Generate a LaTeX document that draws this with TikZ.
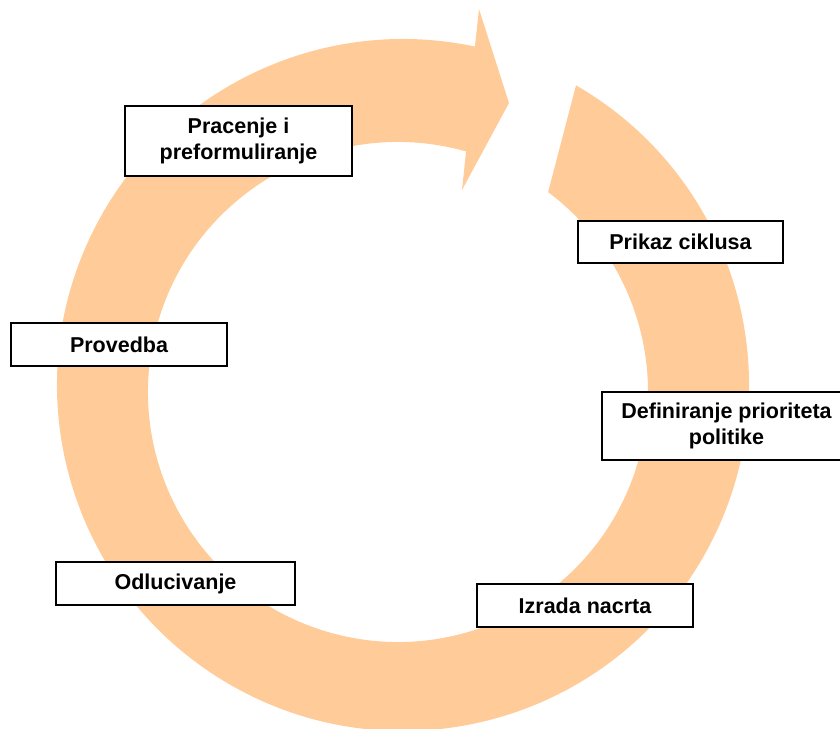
\documentclass[tikz,border=0pt]{standalone}
\usepackage{fontspec}
\setmainfont{Liberation Sans}
\definecolor{ringcol}{HTML}{FFCC99}
\tikzset{
  stagebox/.style={draw=black, line width=1.5pt, fill=white, inner sep=0pt,
    align=center, font=\fontsize{21.5}{26.5}\selectfont\bfseries},
}
\begin{document}
\begin{tikzpicture}[x=1pt,y=1pt]
\useasboundingbox (0,0) rectangle (840,728);
\clip (0,0) rectangle (840,728);
% circular arrow
\fill[ringcol] ([shift={(60:346)}]403,343)
  arc[start angle=60, end angle=-282, radius=346]
  -- (479,719) -- (509,625) -- (462,538)
  -- ([shift={(74.2:250)}]398,336)
  arc[start angle=-285.8, end angle=53.1, radius=250]
  -- cycle;
% stage boxes
\node[stagebox, minimum width=227pt, minimum height=70pt] (prac) at (238.5,587) {Pracenje i\\preformuliranje};
\node[stagebox, minimum width=205pt, minimum height=42pt] (prik) at (680.5,486) {Prikaz ciklusa};
\node[stagebox, minimum width=216pt, minimum height=43pt] (prov) at (119,383.5) {Provedba};
\node[stagebox, minimum width=249pt, minimum height=68pt] (defi) at (726.5,302) {Definiranje prioriteta\\politike};
\node[stagebox, minimum width=239pt, minimum height=43pt] (odlu) at (175.5,144.5) {Odlucivanje};
\node[stagebox, minimum width=216pt, minimum height=43pt] (izra) at (585,122.5) {Izrada nacrta};
\end{tikzpicture}
\end{document}
